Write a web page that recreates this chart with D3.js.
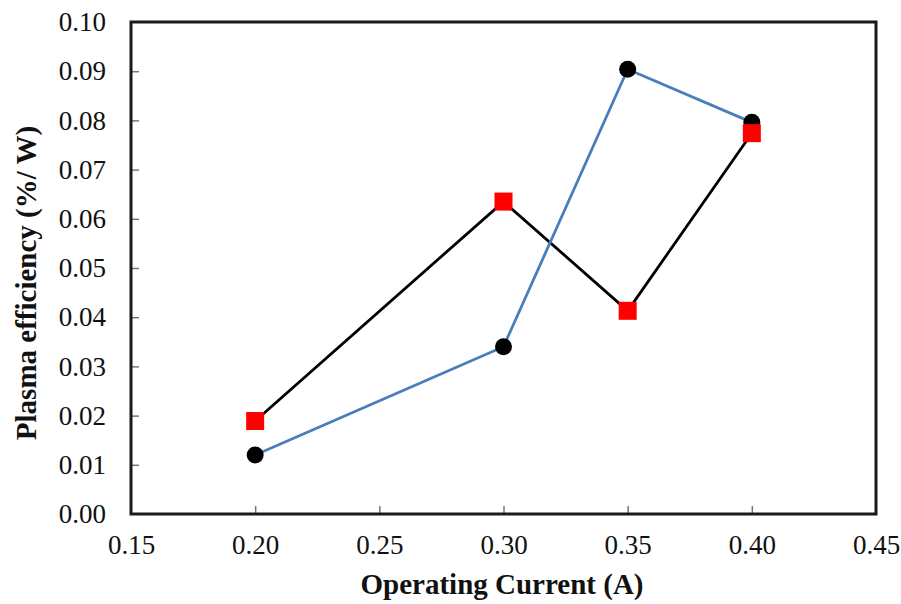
<!DOCTYPE html>
<html>
<head>
<meta charset="utf-8">
<script src="https://cdn.jsdelivr.net/npm/d3@7"></script>
<style>
  html, body { margin: 0; padding: 0; background: #fff; }
  svg { display: block; }
</style>
</head>
<body>
<svg id="chart" width="901" height="604"></svg>
<script>
// Operating current (A) at each measurement
const currents = [0.20, 0.30, 0.35, 0.40];
// Plasma efficiency (%/W), circle series (blue line)
const effCircle = [0.012, 0.034, 0.0904, 0.0796];
// Plasma efficiency (%/W), square series (black line)
const effSquare = [0.0189, 0.0635, 0.0413, 0.0774];
// Axis ticks
const xTicks = [0.15, 0.20, 0.25, 0.30, 0.35, 0.40, 0.45];
const yTicks = [0, 0.01, 0.02, 0.03, 0.04, 0.05, 0.06, 0.07, 0.08, 0.09, 0.10];

const svg = d3.select("#chart");
const plot = { left: 131, right: 876, top: 22, bottom: 514 };

const x = d3.scaleLinear().domain([0.15, 0.45]).range([plot.left, plot.right]);
const y = d3.scaleLinear().domain([0, 0.10]).range([plot.bottom, plot.top]);

const font = "'Liberation Serif', 'Times New Roman', serif";

// Inward ticks
const xAxis = d3.axisBottom(x).tickValues(xTicks).tickSize(-8).tickPadding(21)
  .tickFormat(d3.format(".2f"));
const yAxis = d3.axisLeft(y).tickValues(yTicks).tickSize(-8).tickPadding(25)
  .tickFormat(d3.format(".2f"));

function styleAxis(g) {
  g.select(".domain").remove();
  g.selectAll(".tick line").attr("stroke", "#777").attr("stroke-width", 1.5);
  g.selectAll(".tick text").attr("fill", "#111").style("font-family", font).style("font-size", "27px");
}

svg.append("g").attr("transform", `translate(0,${plot.bottom})`).call(xAxis).call(styleAxis);
svg.append("g").attr("transform", `translate(${plot.left},0)`).call(yAxis).call(styleAxis);

// Hide ticks that sit on the frame
svg.selectAll(".tick").filter(d => d === 0.15 || d === 0.45 || d === 0 || d === 0.10)
  .select("line").remove();

// Plot frame
svg.append("rect")
  .attr("x", plot.left).attr("y", plot.top)
  .attr("width", plot.right - plot.left).attr("height", plot.bottom - plot.top)
  .attr("fill", "none").attr("stroke", "#1a1a1a").attr("stroke-width", 3);

const line = d3.line().x(d => x(d[0])).y(d => y(d[1]));
const squarePts = currents.map((c, i) => [c, effSquare[i]]);
const circlePts = currents.map((c, i) => [c, effCircle[i]]);

svg.append("path").datum(squarePts).attr("d", line)
  .attr("fill", "none").attr("stroke", "#000").attr("stroke-width", 2.8);
svg.append("path").datum(circlePts).attr("d", line)
  .attr("fill", "none").attr("stroke", "#4a7ebb").attr("stroke-width", 2.8);

svg.append("g").selectAll("circle").data(circlePts).join("circle")
  .attr("cx", d => x(d[0])).attr("cy", d => y(d[1])).attr("r", 8.5)
  .attr("fill", "#000");

const s = 18;
svg.append("g").selectAll("rect").data(squarePts).join("rect")
  .attr("x", d => x(d[0]) - s / 2).attr("y", d => y(d[1]) - s / 2)
  .attr("width", s).attr("height", s).attr("fill", "#ff0000");

// Axis titles
svg.append("text")
  .attr("x", 502).attr("y", 594)
  .attr("text-anchor", "middle")
  .style("font-family", font).style("font-weight", "bold").style("font-size", "29px")
  .attr("fill", "#111")
  .text("Operating Current (A)");

svg.append("text")
  .attr("transform", `translate(36,283) rotate(-90)`)
  .attr("text-anchor", "middle")
  .style("font-family", font).style("font-weight", "bold").style("font-size", "29px")
  .attr("fill", "#111")
  .text("Plasma efficiency (%/ W)");
</script>
</body>
</html>
